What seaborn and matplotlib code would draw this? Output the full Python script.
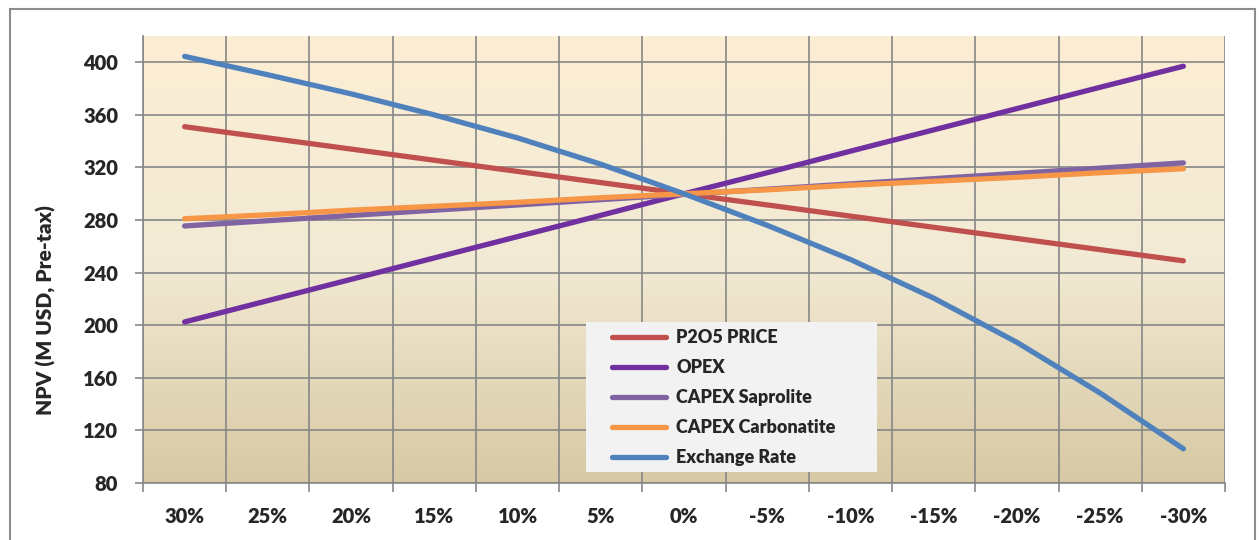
import numpy as np
import pandas as pd
import seaborn as sns
import matplotlib.pyplot as plt
from matplotlib.patches import Rectangle
from matplotlib.ticker import FixedLocator

# категории чувствительности
categories = ["30%", "25%", "20%", "15%", "10%", "5%", "0%",
              "-5%", "-10%", "-15%", "-20%", "-25%", "-30%"]

p2o5_price = [351, 342.5, 334, 325.5, 317, 308.5, 300, 291.5, 283, 274.5, 266, 257.5, 249]
opex = [202.5, 218.7, 234.9, 251.2, 267.4, 283.6, 300, 316, 332.4, 348.6, 364.8, 381, 397]
capex_saprolite = [275.5, 279.5, 283.5, 287.5, 291.5, 295.5, 299.5, 303.5, 307.5, 311.5, 315.5, 319.5, 323.5]
capex_carbonatite = [281, 284, 287.5, 290.5, 293.5, 297, 300, 303, 306.5, 309.5, 312.5, 316, 319]
exchange_rate = [404.5, 390.5, 376, 360, 342.5, 322.5, 300, 276, 250, 220.6, 187, 148.4, 106]

series_names = ["P2O5 PRICE", "OPEX", "CAPEX Saprolite", "CAPEX Carbonatite", "Exchange Rate"]
series_values = [p2o5_price, opex, capex_saprolite, capex_carbonatite, exchange_rate]
colors = ["#C0504D", "#7030A0", "#8064A2", "#F79646", "#4F81BD"]

y_ticks = [80, 120, 160, 200, 240, 280, 320, 360, 400]

rows = []
for name, vals in zip(series_names, series_values):
    for i, v in enumerate(vals):
        rows.append({"pos": i, "npv": v, "series": name})
df = pd.DataFrame(rows)

sns.set_theme(style="ticks")
plt.rcParams["font.family"] = ["Lato", "DejaVu Sans"]
plt.rcParams["font.weight"] = "heavy"

fig = plt.figure(figsize=(12.59, 5.40), dpi=100)
ax = fig.add_axes([143 / 1259, 1 - 483 / 540, (1225 - 143) / 1259, (483 - 36) / 540])

# фон с градиентом
stops = np.array([[252, 238, 212], [242, 234, 212], [215, 201, 164]]) / 255
t = np.linspace(0, 1, 256)
grad = np.stack([np.interp(t, [0, 0.5, 1], stops[:, c]) for c in range(3)], axis=1)
ax.imshow(grad[:, None, :], extent=[0, 1, 0, 1], transform=ax.transAxes,
          aspect="auto", zorder=0)

sns.lineplot(data=df, x="pos", y="npv", hue="series", hue_order=series_names,
             palette=colors, linewidth=3.8, ax=ax, zorder=3,
             solid_capstyle="round", legend=True)

ax.set_xlim(-0.5, len(categories) - 0.5)
ax.set_ylim(80, 420)
ax.set_xticks(range(len(categories)))
ax.set_xticklabels(categories)
ax.xaxis.set_minor_locator(FixedLocator(np.arange(-0.5, len(categories), 1.0)))
ax.set_yticks(y_ticks)

grid_c = "#878787"
ax.grid(False)
ax.grid(True, which="minor", axis="x", color=grid_c, linewidth=1.2, zorder=1)
ax.grid(True, which="major", axis="y", color=grid_c, linewidth=1.2, zorder=1)
ax.tick_params(axis="x", which="major", length=0, pad=17, labelsize=14.5)
ax.tick_params(axis="x", which="minor", length=6.5, width=1.2, color=grid_c, direction="out")
ax.tick_params(axis="y", which="major", length=6, width=1.2, color=grid_c, pad=12, labelsize=14.5)

for s in ["top", "right"]:
    ax.spines[s].set_visible(False)
for s in ["left", "bottom"]:
    ax.spines[s].set_color(grid_c)
    ax.spines[s].set_linewidth(1.2)

ax.set_xlabel("")
ax.set_ylabel("")
fig.text(46 / 1259, 1 - 310 / 540, "NPV (M USD, Pre-tax)", rotation=90,
         ha="center", va="center", fontsize=15, fontweight="heavy")

# легенда на сером фоне
x0 = (586 - 143) / 1082
y0 = (483 - 472) / 447
ax.add_patch(Rectangle((x0, y0), (877 - 586) / 1082, (472 - 322) / 447,
                       transform=ax.transAxes, facecolor="#F2F2F2",
                       edgecolor="none", zorder=4))
handles, labels = ax.get_legend_handles_labels()
leg = ax.legend(handles, labels, loc="upper left",
                bbox_to_anchor=((612 - 143) / 1082, (483 - 329) / 447),
                frameon=False, fontsize=13, labelspacing=0.72,
                handlelength=3.0, handletextpad=0.55, borderpad=0, borderaxespad=0)
leg.set_zorder(5)
for line in leg.get_lines():
    line.set_linewidth(3.8)
    line.set_solid_capstyle("round")

# рамка вокруг всего графика
fig.add_artist(Rectangle((10 / 1259, -0.1), 1245 / 1259, 1.1 - 9 / 540,
                         transform=fig.transFigure, fill=False,
                         edgecolor="#8C8C8C", linewidth=1.5))

fig.savefig("out.png", dpi=100)
plt.close(fig)
